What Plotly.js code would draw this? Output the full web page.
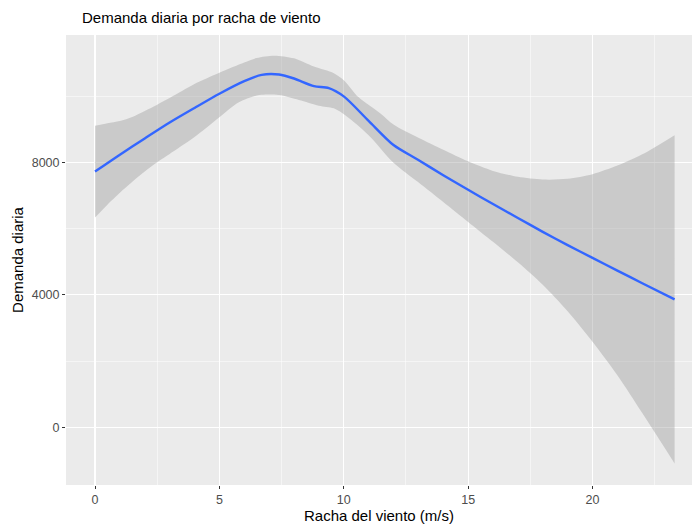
<!DOCTYPE html>
<html>
<head>
<meta charset="utf-8">
<script src="https://cdn.plot.ly/plotly-3.0.1.min.js"></script>
<style>
  html, body { margin: 0; padding: 0; background: #ffffff; overflow: hidden; }
  #chart { width: 692px; height: 524px; }
</style>
</head>
<body>
<div id="chart"></div>
<script>
// Smoothed daily demand against wind gust, with its confidence band.
const rachaLinea = [0, 1, 2, 3, 4, 5, 6, 6.7, 7.4, 8, 8.8, 9.4, 10, 11, 12, 13, 14, 15, 16, 17, 18, 19, 20, 21, 22, 23.3];
const demandaAjustada = [7720, 8230, 8720, 9200, 9640, 10070, 10450, 10640, 10650, 10530, 10300, 10240, 9990, 9250, 8520, 8070, 7610, 7170, 6740, 6320, 5900, 5500, 5115, 4730, 4350, 3860];

const rachaSup = [0, 0.5, 1, 1.5, 2, 2.5, 3, 3.5, 4, 5, 6, 6.5, 7.2, 8, 8.8, 9.6, 10, 10.6, 11.5, 12, 13, 14, 15, 16, 17, 18, 19, 20, 21, 22, 23.3];
const bandaSuperior = [9105, 9180, 9250, 9370, 9550, 9740, 9940, 10150, 10360, 10700, 11010, 11150, 11220, 11140, 10890, 10690, 10480, 9960, 9460, 9140, 8740, 8380, 8030, 7740, 7560, 7480, 7500, 7640, 7900, 8240, 8820];

const rachaInf = [0, 0.5, 1, 1.5, 2, 2.5, 3, 4, 5, 5.8, 6.6, 7.4, 8.2, 9, 9.6, 10.1, 11, 12, 13, 14, 15, 16, 17, 18, 19, 20, 21, 22, 23.3];
const bandaInferior = [6330, 6720, 7080, 7410, 7720, 8000, 8250, 8760, 9360, 9820, 10030, 10030, 9880, 9710, 9630, 9400, 8820, 7990, 7396, 6800, 6200, 5600, 4980, 4300, 3500, 2580, 1570, 430, -1090];

const ticksX = [0, 5, 10, 15, 20];
const ticksY = [0, 4000, 8000];

const fuente = 'Liberation Sans, Arial, sans-serif';

const traces = [
  {
    x: rachaInf, y: bandaInferior,
    type: 'scatter', mode: 'lines',
    line: { width: 0, shape: 'spline', smoothing: 0.8 },
    hoverinfo: 'skip', showlegend: false
  },
  {
    x: rachaSup, y: bandaSuperior,
    type: 'scatter', mode: 'lines',
    line: { width: 0, shape: 'spline', smoothing: 0.8 },
    fill: 'tonexty', fillcolor: 'rgba(153,153,153,0.4)',
    hoverinfo: 'skip', showlegend: false
  },
  {
    x: rachaLinea, y: demandaAjustada,
    type: 'scatter', mode: 'lines',
    line: { color: '#3366FF', width: 2.4, shape: 'spline', smoothing: 0.8 },
    showlegend: false
  }
];

const layout = {
  width: 692, height: 524,
  margin: { l: 66, r: 0, t: 35, b: 39, pad: 0 },
  paper_bgcolor: '#ffffff',
  plot_bgcolor: '#EBEBEB',
  font: { family: fuente, color: '#4D4D4D' },
  title: {
    text: 'Demanda diaria por racha de viento',
    font: { family: fuente, size: 15, color: '#000000' },
    xref: 'container', x: 82 / 692, xanchor: 'left',
    yref: 'container', y: 1 - 18 / 524, yanchor: 'middle'
  },
  xaxis: {
    range: [-1.166, 24.0],
    tickmode: 'array', tickvals: ticksX, ticktext: ticksX.map(String),
    ticks: 'outside', ticklen: 3, tickwidth: 1, tickcolor: '#333333',
    tickfont: { family: fuente, size: 12.5, color: '#4D4D4D' },
    showgrid: true, gridcolor: '#FFFFFF', gridwidth: 1.1,
    minor: { dtick: 2.5, tick0: 0, showgrid: true, gridcolor: '#FFFFFF', gridwidth: 0.5, ticks: '' },
    zeroline: false, showline: false,
    title: { text: 'Racha del viento (m/s)', font: { family: fuente, size: 15, color: '#000000' }, standoff: 4 }
  },
  yaxis: {
    range: [-1742, 11843],
    tickmode: 'array', tickvals: ticksY, ticktext: ticksY.map(String),
    ticks: 'outside', ticklen: 3, tickwidth: 1, tickcolor: '#333333',
    tickfont: { family: fuente, size: 12.5, color: '#4D4D4D' },
    showgrid: true, gridcolor: '#FFFFFF', gridwidth: 1.1,
    minor: { dtick: 2000, tick0: 0, showgrid: true, gridcolor: '#FFFFFF', gridwidth: 0.5, ticks: '' },
    zeroline: false, showline: false,
    title: { text: 'Demanda diaria', font: { family: fuente, size: 15, color: '#000000' }, standoff: 4 }
  }
};

Plotly.newPlot('chart', traces, layout, { displayModeBar: false, staticPlot: true });
</script>
</body>
</html>
